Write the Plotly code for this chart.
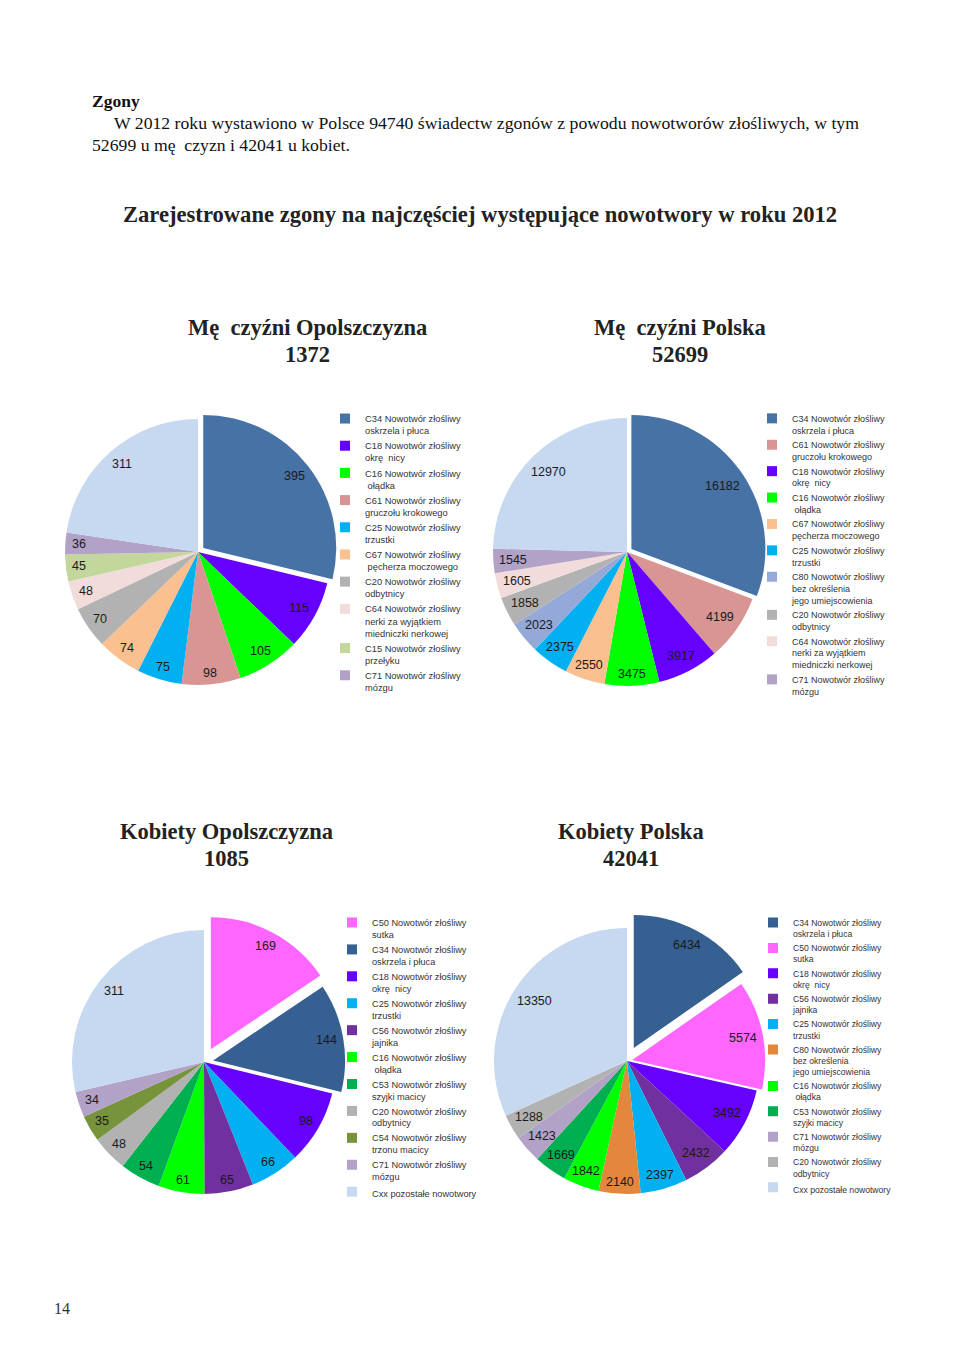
import math
import plotly.graph_objects as go

# figure is placed at an 8px page offset (default body margin) -> keep it inside the 960x1371 window
OFF = 8
W, H = 960 - OFF, 1371 - OFF


def X(px):
    return (px - OFF) / W


def Y(py):
    return 1 - (py - OFF) / H


# ---------------- data ----------------
men_op_codes = ["C34", "C18", "C16", "C61", "C25", "C67", "C20", "C64", "C15", "C71", "Cxx"]
men_op_values = [395, 115, 105, 98, 75, 74, 70, 48, 45, 36, 311]

men_pl_codes = ["C34", "C61", "C18", "C16", "C67", "C25", "C80", "C20", "C64", "C71", "Cxx"]
men_pl_values = [16182, 4199, 3917, 3475, 2550, 2375, 2023, 1858, 1605, 1545, 12970]

wom_op_codes = ["C50", "C34", "C18", "C25", "C56", "C16", "C53", "C20", "C54", "C71", "Cxx"]
wom_op_values = [169, 144, 98, 66, 65, 61, 54, 48, 35, 34, 311]

wom_pl_codes = ["C34", "C50", "C18", "C56", "C25", "C80", "C16", "C53", "C71", "C20", "Cxx"]
wom_pl_values = [6434, 5574, 3492, 2432, 2397, 2140, 1842, 1669, 1423, 1288, 13350]

# legend names
names = {
    "C34": "C34 Nowotwór złośliwy<br>oskrzela i płuca",
    "C18": "C18 Nowotwór złośliwy<br>okrę\u00a0 nicy",
    "C16": "C16 Nowotwór złośliwy<br>\u00a0ołądka",
    "C61": "C61 Nowotwór złośliwy<br>gruczołu krokowego",
    "C25": "C25 Nowotwór złośliwy<br>trzustki",
    "C67": "C67 Nowotwór złośliwy<br>pęcherza moczowego",
    "C20": "C20 Nowotwór złośliwy<br>odbytnicy",
    "C64": "C64 Nowotwór złośliwy<br>nerki za wyjątkiem<br>miedniczki nerkowej",
    "C15": "C15 Nowotwór złośliwy<br>przełyku",
    "C71": "C71 Nowotwór złośliwy<br>mózgu",
    "C80": "C80 Nowotwór złośliwy<br>bez określenia<br>jego umiejscowienia",
    "C50": "C50 Nowotwór złośliwy<br>sutka",
    "C56": "C56 Nowotwór złośliwy<br>jajnika",
    "C53": "C53 Nowotwór złośliwy<br>szyjki macicy",
    "C54": "C54 Nowotwór złośliwy<br>trzonu macicy",
    "Cxx": "Cxx pozostałe nowotwory",
}
names_men_op = dict(names)
names_men_op["C67"] = "C67 Nowotwór złośliwy<br>\u00a0pęcherza moczowego"

header_title = "Zgony"
header_line1 = "W 2012 roku wystawiono w Polsce 94740 świadectw zgonów z powodu nowotworów złośliwych, w tym"
header_line2 = "52699 u mę\u00a0 czyzn i 42041 u kobiet."
main_title = "Zarejestrowane zgony na najczęściej występujące nowotwory w roku 2012"
chart_titles = ["Mę\u00a0 czyźni Opolszczyzna", "Mę\u00a0 czyźni Polska", "Kobiety Opolszczyzna", "Kobiety Polska"]
chart_totals = [1372, 52699, 1085, 42041]
page_number = "14"

# ---------------- styles ----------------
colors_men = {
    "C34": "#4672A6", "C18": "#6600FF", "C16": "#00FF00", "C61": "#D99594",
    "C25": "#00B0F0", "C67": "#FAC090", "C20": "#B2B2B2", "C64": "#F2DCDB",
    "C15": "#C3D69B", "C71": "#B3A2C7", "C80": "#95A9D8", "Cxx": "#C6D9F1",
}
colors_wom = {
    "C50": "#FF66FF", "C34": "#376092", "C18": "#6600FF", "C25": "#00B0F0",
    "C56": "#7030A0", "C16": "#00FF00", "C53": "#00B050", "C20": "#B2B2B2",
    "C54": "#77933C", "C71": "#B3A2C7", "C80": "#E2873C", "Cxx": "#C6D9F1",
}

charts = [
    dict(codes=men_op_codes, values=men_op_values, colors=colors_men, names=names_men_op,
         cx=198, cy=552, r=133, pulls=[0.05], legend="legend", show_other=False,
         title_x=307, title_y=328),
    dict(codes=men_pl_codes, values=men_pl_values, colors=colors_men, names=names,
         cx=627, cy=552, r=134, pulls=[0.04], legend="legend2", show_other=False,
         title_x=680, title_y=328),
    dict(codes=wom_op_codes, values=wom_op_values, colors=colors_wom, names=names,
         cx=204, cy=1062, r=132, pulls=[0.11, 0.07], legend="legend3", show_other=True,
         title_x=226, title_y=831),
    dict(codes=wom_pl_codes, values=wom_pl_values, colors=colors_wom, names=names,
         cx=627, cy=1061, r=133, pulls=[0.11, 0.04], legend="legend4", show_other=True,
         title_x=631, title_y=831),
]

LABEL_FS = 12.5
fig = go.Figure()
annotations = []

for ch in charts:
    n = len(ch["values"])
    pulls = [ch["pulls"][i] if i < len(ch["pulls"]) else 0 for i in range(n)]
    half = ch["r"] * (1 + max(pulls))
    dom = dict(x=[X(ch["cx"] - half), X(ch["cx"] + half)],
               y=[Y(ch["cy"] + half), Y(ch["cy"] - half)])
    fig.add_trace(go.Pie(
        labels=ch["codes"], values=ch["values"], sort=False, direction="clockwise",
        rotation=0, pull=pulls, domain=dom, textinfo="none", showlegend=False,
        marker=dict(colors=[ch["colors"][c] for c in ch["codes"]], line=dict(width=0)),
        hovertemplate="%{label}: %{value}<extra></extra>",
    ))
    # legend entries (dummy traces)
    for code in ch["codes"]:
        if code == "Cxx" and not ch["show_other"]:
            continue
        fig.add_trace(go.Scatter(
            x=[None], y=[None], mode="markers", name=ch["names"][code],
            marker=dict(symbol="square", size=10, color=ch["colors"][code]),
            legend=ch["legend"], showlegend=True, hoverinfo="skip",
        ))
    # value labels placed near the outer edge of each slice
    total = sum(ch["values"])
    cum = 0
    r = ch["r"]
    for i, v in enumerate(ch["values"]):
        mid = (cum + v / 2) / total * 2 * math.pi
        cum += v
        s, c = math.sin(mid), math.cos(mid)
        ox = ch["cx"] + pulls[i] * r * s
        oy = ch["cy"] - pulls[i] * r * c
        txt = str(v)
        w = len(txt) * 0.556 * LABEL_FS
        h = 0.72 * LABEL_FS
        b = abs(s) * w / 2 + abs(c) * h / 2
        c0 = (w * w + h * h) / 4 - (r - 6) ** 2
        R = -b + math.sqrt(b * b - c0)
        px, py = ox + R * s, oy - R * c
        annotations.append(dict(
            x=X(px), y=Y(py), xref="paper", yref="paper", text=txt, showarrow=False,
            xanchor="center", yanchor="middle",
            font=dict(family="Liberation Sans", size=LABEL_FS, color="#1a1a1a"),
        ))

# chart titles (name line + total line)
serif = "Liberation Serif"
for ch, t, tot in zip(charts, chart_titles, chart_totals):
    for txt, dy in ((t, 0), (str(tot), 27)):
        annotations.append(dict(
            x=X(ch["title_x"]), y=Y(ch["title_y"] + dy), xref="paper", yref="paper",
            text=f"<b>{txt}</b>", showarrow=False, xanchor="center", yanchor="middle",
            font=dict(family=serif, size=22.5, color="#222222"),
        ))

annotations += [
    dict(x=X(90), y=Y(101), text=f"<b>{header_title}</b>", xanchor="left",
         font=dict(family=serif, size=17.5, color="#111111")),
    dict(x=X(112), y=Y(123), text=header_line1, xanchor="left",
         font=dict(family=serif, size=17.7, color="#111111")),
    dict(x=X(90), y=Y(145), text=header_line2, xanchor="left",
         font=dict(family=serif, size=17.7, color="#111111")),
    dict(x=X(480), y=Y(215), text=f"<b>{main_title}</b>", xanchor="center",
         font=dict(family=serif, size=22.6, color="#222222")),
    dict(x=X(62), y=Y(1308), text=page_number, xanchor="center",
         font=dict(family=serif, size=16, color="#333333")),
]
for a in annotations[-5:]:
    a.update(xref="paper", yref="paper", showarrow=False, yanchor="middle")


def legend_cfg(x_px, top_px, fs):
    return dict(x=X(x_px), y=Y(top_px), xanchor="left", yanchor="top",
                font=dict(family="Liberation Sans", size=fs, color="#333333"),
                bgcolor="rgba(0,0,0,0)", borderwidth=0, valign="top",
                traceorder="normal", tracegroupgap=0, itemwidth=30)


fig.update_layout(
    width=W, height=H, margin=dict(l=0, r=0, t=0, b=0),
    paper_bgcolor="white", plot_bgcolor="white",
    xaxis=dict(visible=False), yaxis=dict(visible=False),
    annotations=annotations,
    legend=legend_cfg(325, 406, 9.3),
    legend2=legend_cfg(752, 406, 9.0),
    legend3=legend_cfg(332, 910, 9.2),
    legend4=legend_cfg(753, 910.5, 8.6),
    hovermode=False,
)

fig.write_html("out.html")
